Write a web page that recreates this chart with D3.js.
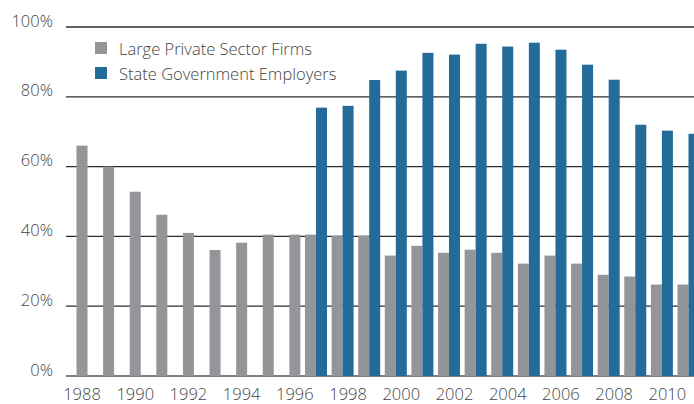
<!DOCTYPE html>
<html>
<head>
<meta charset="utf-8">
<script src="https://cdn.jsdelivr.net/npm/d3@7/dist/d3.min.js"></script>
<style>
  body { margin: 0; background: #fff; }
  text { font-family: "Open Sans", sans-serif; font-weight: 300; fill: #444; }
</style>
</head>
<body>
<svg id="chart" width="694" height="404"></svg>
<script>
const years = [1988, 1989, 1990, 1991, 1992, 1993, 1994, 1995, 1996, 1997, 1998, 1999,
               2000, 2001, 2002, 2003, 2004, 2005, 2006, 2007, 2008, 2009, 2010, 2011];
const privateFirms = [66.0, 60.0, 52.8, 46.2, 41.0, 36.1, 38.2, 40.5, 40.5, 40.5, 40.2, 40.2,
                      34.5, 37.3, 35.3, 36.2, 35.3, 32.2, 34.5, 32.2, 29.0, 28.5, 26.2, 26.2];
const stateGov = [null, null, null, null, null, null, null, null, null, 76.9, 77.4, 84.8,
                  87.5, 92.6, 92.1, 95.2, 94.4, 95.5, 93.5, 89.2, 84.9, 72.0, 70.3, 69.4];
const yTicks = [0, 20, 40, 60, 80, 100];
const xTickYears = [1988, 1990, 1992, 1994, 1996, 1998, 2000, 2002, 2004, 2006, 2008, 2010];
const seriesNames = ["Large Private Sector Firms", "State Government Employers"];
const colors = ["#939598", "#236b98"];

const svg = d3.select("#chart");
const gridLeft = 66, gridRight = 694;

// one band per year, centred on the year's tick
const x = d3.scaleBand().domain(years).range([68.7, 707.3]).padding(0);
const half = x.bandwidth() / 2;
// sub-positions relative to the tick centre
const x1 = d3.scaleBand().domain(["private", "state"]).range([-16.5, 5.5]);
const y = d3.scaleLinear().domain([0, 100]).range([376, 27]);

// gridlines
svg.append("g").selectAll("line")
  .data(yTicks)
  .enter().append("line")
  .attr("x1", gridLeft).attr("x2", gridRight)
  .attr("y1", d => y(d)).attr("y2", d => y(d))
  .attr("stroke", d => d === 0 ? "#555" : "#2b2b2b")
  .attr("stroke-width", d => d === 0 ? 1.6 : 1.3);

// y labels
svg.append("g").selectAll("text")
  .data(yTicks)
  .enter().append("text")
  .attr("x", 53).attr("y", d => y(d) - 0.5)
  .attr("text-anchor", "end")
  .style("font-size", "16.5px")
  .text(d => d + "%");

// bars
const data = years.map((yr, i) => ({ year: yr, priv: privateFirms[i], state: stateGov[i] }));

svg.append("g").selectAll("rect")
  .data(data)
  .enter().append("rect")
  .attr("x", d => x(d.year) + half + (d.state === null ? x1("state") : x1("private")))
  .attr("y", d => y(d.priv))
  .attr("width", x1.bandwidth())
  .attr("height", d => y(0) - y(d.priv))
  .attr("fill", colors[0]);

svg.append("g").selectAll("rect")
  .data(data.filter(d => d.state !== null))
  .enter().append("rect")
  .attr("x", d => x(d.year) + half + x1("state"))
  .attr("y", d => y(d.state))
  .attr("width", x1.bandwidth())
  .attr("height", d => y(0) - y(d.state))
  .attr("fill", colors[1]);

// x labels
svg.append("g").selectAll("text")
  .data(xTickYears)
  .enter().append("text")
  .attr("x", d => x(d) + half)
  .attr("y", 399.5)
  .attr("text-anchor", "middle")
  .style("font-size", "16.5px")
  .text(d => d);

// legend
const legend = svg.append("g").selectAll("g")
  .data(seriesNames)
  .enter().append("g")
  .attr("transform", (d, i) => `translate(95,${42 + i * 25})`);
legend.append("rect")
  .attr("width", 12).attr("height", 12)
  .attr("fill", (d, i) => colors[i]);
legend.append("text")
  .attr("x", 24).attr("y", 12.5)
  .style("font-size", "16.5px")
  .text(d => d);
</script>
</body>
</html>
